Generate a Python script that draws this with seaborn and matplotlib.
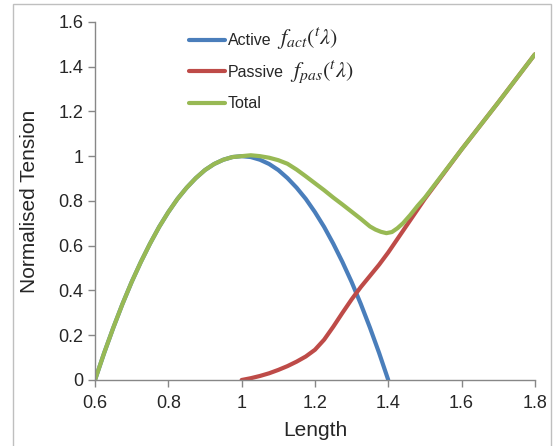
#!/usr/bin/env python3
"""Normalised tension versus length: active, passive and total curves."""

import matplotlib as mpl
import matplotlib.pyplot as plt
import pandas as pd
import seaborn as sns
from matplotlib.patches import Rectangle
from matplotlib.ticker import FuncFormatter, MultipleLocator

mpl.use('Agg')

# Active force-length curve
ACT_X = [0.6, 0.625, 0.65, 0.675, 0.7, 0.725, 0.75, 0.775, 0.8, 0.825,
         0.85, 0.875, 0.9, 0.925, 0.95, 0.975, 1.0,
         1.025, 1.05, 1.075, 1.1, 1.125, 1.15, 1.175, 1.2, 1.225,
         1.25, 1.275, 1.3, 1.325, 1.35, 1.375, 1.4]
ACT_Y = [0.0, 0.121, 0.234, 0.340, 0.438, 0.527, 0.609, 0.684, 0.75, 0.809,
         0.859, 0.902, 0.938, 0.965, 0.984, 0.996, 1.0,
         0.996, 0.984, 0.965, 0.938, 0.902, 0.859, 0.809, 0.75, 0.684,
         0.609, 0.527, 0.438, 0.340, 0.234, 0.121, 0.0]

# Passive force-length curve
PAS_X = [1.0, 1.025, 1.05, 1.075, 1.1, 1.125, 1.15, 1.175, 1.2, 1.225,
         1.25, 1.275, 1.3, 1.325, 1.35, 1.375, 1.4, 1.425, 1.45, 1.475,
         1.5, 1.6, 1.7, 1.8]
PAS_Y = [0.0, 0.008, 0.018, 0.03, 0.045, 0.062, 0.082, 0.105, 0.135, 0.18,
         0.238, 0.30, 0.36, 0.415, 0.465, 0.515, 0.57, 0.63, 0.69, 0.75,
         0.81, 1.03, 1.24, 1.455]

# Total tension
TOT_X = [0.6, 0.625, 0.65, 0.675, 0.7, 0.725, 0.75, 0.775, 0.8, 0.825,
         0.85, 0.875, 0.9, 0.925, 0.95, 0.975, 1.0,
         1.025, 1.05, 1.075, 1.1, 1.125, 1.15, 1.175, 1.2, 1.225,
         1.25, 1.275, 1.3, 1.325, 1.35, 1.365, 1.38, 1.395, 1.41, 1.425,
         1.44, 1.46, 1.48, 1.5, 1.6, 1.7, 1.8]
TOT_Y = [0.0, 0.121, 0.234, 0.340, 0.438, 0.527, 0.609, 0.684, 0.75, 0.809,
         0.859, 0.902, 0.938, 0.965, 0.984, 0.996, 1.0,
         1.004, 1.0, 0.993, 0.982, 0.966, 0.94, 0.91, 0.879, 0.848,
         0.815, 0.784, 0.752, 0.72, 0.686, 0.672, 0.662, 0.656, 0.661, 0.678,
         0.70, 0.737, 0.778, 0.815, 1.03, 1.24, 1.455]

LABELS = ["Active", "Passive", "Total"]
LABEL_MATH = [r"$f_{act}(^{t}\lambda)$", r"$f_{pas}(^{t}\lambda)$", ""]
COLORS = ["#4A7EBB", "#BE4B48", "#98B954"]

sns.set_style("white")
plt.rcParams['font.family'] = ['Liberation Sans', 'DejaVu Sans']
plt.rcParams['mathtext.fontset'] = 'stix'

LEGEND_SIZE = 11.5
MATH_SIZE = 16


def main():
    df = pd.concat([
        pd.DataFrame({"Length": ACT_X, "Tension": ACT_Y, "series": LABELS[0]}),
        pd.DataFrame({"Length": PAS_X, "Tension": PAS_Y, "series": LABELS[1]}),
        pd.DataFrame({"Length": TOT_X, "Tension": TOT_Y, "series": LABELS[2]}),
    ], ignore_index=True)

    fig = plt.figure(figsize=(5.54, 4.46), dpi=100)
    ax = fig.add_axes([0.1715, 0.148, 0.794, 0.803])
    sns.lineplot(data=df, x="Length", y="Tension", hue="series",
                 palette=dict(zip(LABELS, COLORS)), sort=False,
                 estimator=None, linewidth=3, ax=ax)

    ax.set_xlim(0.6, 1.8)
    ax.set_ylim(0, 1.6)
    ax.xaxis.set_major_locator(MultipleLocator(0.2))
    ax.yaxis.set_major_locator(MultipleLocator(0.2))
    fmt = FuncFormatter(lambda v, _: f"{round(v, 1):g}")
    ax.xaxis.set_major_formatter(fmt)
    ax.yaxis.set_major_formatter(fmt)
    ax.tick_params(axis="both", labelsize=13, length=5, width=1,
                   color="#878787", direction="out", bottom=True, left=True)
    ax.tick_params(axis="x", pad=6)
    ax.set_xlabel("Length", fontsize=15, labelpad=6)
    ax.set_ylabel("Normalised Tension", fontsize=15, labelpad=14)
    for side in ["top", "right"]:
        ax.spines[side].set_visible(False)
    for side in ["left", "bottom"]:
        ax.spines[side].set_color("#878787")
        ax.spines[side].set_linewidth(1)

    leg = ax.legend(loc="upper left", bbox_to_anchor=(0.342, 0.925),
                    bbox_transform=fig.transFigure, frameon=False,
                    fontsize=LEGEND_SIZE, handlelength=2.2, handletextpad=0.2,
                    labelspacing=1.03, borderaxespad=0, borderpad=0)

    # Put the (larger) math part after each legend label
    fig.canvas.draw()
    to_fig = fig.transFigure.inverted()
    descent = 0.212 * LEGEND_SIZE * fig.dpi / 72
    for text, math in zip(leg.get_texts(), LABEL_MATH):
        if not math:
            continue
        bb = text.get_window_extent()
        x, y = to_fig.transform((bb.x1 + 6, bb.y0 + descent))
        fig.text(x, y, math, fontsize=MATH_SIZE, va="baseline", ha="left")

    # Outer chart border
    fig.patches.append(Rectangle((13 / 554, -0.01), 538 / 554, 1.0,
                                 transform=fig.transFigure, fill=False,
                                 edgecolor="#BFBFBF", linewidth=1))

    fig.savefig("out.png", dpi=100)
    plt.close(fig)


if __name__ == '__main__':
    main()
